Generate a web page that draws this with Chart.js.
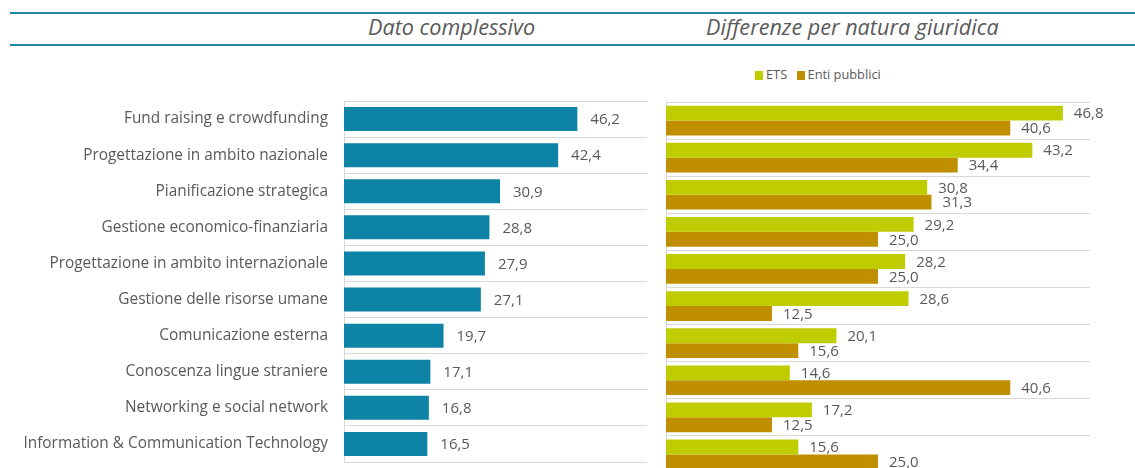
<!DOCTYPE html>
<html>
<head>
<meta charset="utf-8">
<script src="https://cdn.jsdelivr.net/npm/chart.js@4.4.0/dist/chart.umd.min.js"></script>
<style>
  body { margin: 0; width: 1135px; height: 468px; overflow: hidden; background: #fff; position: relative; font-family: "Open Sans", sans-serif; }
  .rule { position: absolute; left: 10px; right: 0; height: 2px; background: #1f86ab; }
  .title { position: absolute; top: 12px; font-style: italic; font-size: 21.6px; color: #595959; white-space: nowrap; }
  .legend { position: absolute; top: 65px; left: 755px; font-size: 12.8px; color: #595959; white-space: nowrap; }
  .legend span.box { display: inline-block; width: 8px; height: 9px; margin-right: 3px; vertical-align: -1px; }
  .legend span.item { margin-right: 6px; }
  canvas { position: absolute; }
</style>
</head>
<body>
<div class="rule" style="top:12px"></div>
<div class="rule" style="top:44px"></div>
<div class="title" style="left:368px">Dato complessivo</div>
<div class="title" style="left:706px">Differenze per natura giuridica</div>
<div class="legend">
  <span class="item"><span class="box" style="background:#bfcc00"></span>ETS</span>
  <span class="item"><span class="box" style="background:#c08f00"></span>Enti pubblici</span>
</div>
<canvas id="leftChart" width="660" height="363" style="left:0;top:100px"></canvas>
<canvas id="rightChart" width="485" height="373" style="left:650px;top:101px"></canvas>

<script>
// ----------------------------------------------------
// DATA
// ----------------------------------------------------
const categories = [
    "Fund raising e crowdfunding",
    "Progettazione in ambito nazionale",
    "Pianificazione strategica",
    "Gestione economico-finanziaria",
    "Progettazione in ambito internazionale",
    "Gestione delle risorse umane",
    "Comunicazione esterna",
    "Conoscenza lingue straniere",
    "Networking e social network",
    "Information & Communication Technology"
];

const totalValues = [46.2, 42.4, 30.9, 28.8, 27.9, 27.1, 19.7, 17.1, 16.8, 16.5];
const etsValues = [46.8, 43.2, 30.8, 29.2, 28.2, 28.6, 20.1, 14.6, 17.2, 15.6];
const publicValues = [40.6, 34.4, 31.3, 25.0, 25.0, 12.5, 15.6, 40.6, 12.5, 25.0];

const GRID = "#d9d9d9";
const TEXT = "#595959";

// ----------------------------------------------------
// VALUE LABELS PLUGIN (comma decimal, right of bar)
// ----------------------------------------------------
const valueLabels = {
    id: "valueLabels",
    afterDatasetsDraw(chart, args, opts) {
        const { ctx } = chart;
        ctx.save();
        ctx.font = '15px "Open Sans"';
        ctx.fillStyle = TEXT;
        ctx.textAlign = "left";
        ctx.textBaseline = "middle";
        chart.data.datasets.forEach((ds, di) => {
            chart.getDatasetMeta(di).data.forEach((bar, i) => {
                const label = ds.data[i].toFixed(1).replace(".", ",");
                ctx.fillText(label, bar.x + opts.gap, bar.y + 1);
            });
        });
        ctx.restore();
    }
};

// fixed axis width, no extra label padding top/bottom
function fixAxis(width) {
    return scale => {
        scale.width = width;
        scale.paddingTop = 0;
        scale.paddingBottom = 0;
    };
}

// ----------------------------------------------------
// LEFT: DATO COMPLESSIVO
// ----------------------------------------------------
new Chart(document.getElementById("leftChart"), {
    type: "bar",
    data: {
        labels: categories,
        datasets: [{
            data: totalValues,
            backgroundColor: "#0d83a6",
            barPercentage: 0.665,
            categoryPercentage: 1
        }]
    },
    options: {
        indexAxis: "y",
        responsive: false,
        animation: false,
        layout: { padding: { top: 1, bottom: 1, right: 13, left: 0 } },
        scales: {
            x: { display: false, min: 0, max: 60 },
            y: {
                afterFit: fixAxis(344),
                grid: { color: GRID, offset: true, drawTicks: false },
                border: { display: true, color: GRID },
                ticks: { color: TEXT, padding: 16, autoSkip: false, font: { family: "Open Sans", size: 15.4 } }
            }
        },
        plugins: {
            legend: { display: false },
            tooltip: { enabled: false },
            valueLabels: { gap: 13 }
        }
    },
    plugins: [valueLabels]
});

// ----------------------------------------------------
// RIGHT: DIFFERENZE PER NATURA GIURIDICA
// ----------------------------------------------------
new Chart(document.getElementById("rightChart"), {
    type: "bar",
    data: {
        labels: categories,
        datasets: [
            { label: "ETS", data: etsValues, backgroundColor: "#bfcc00", barPercentage: 1, categoryPercentage: 0.8 },
            { label: "Enti pubblici", data: publicValues, backgroundColor: "#c08f00", barPercentage: 1, categoryPercentage: 0.8 }
        ]
    },
    options: {
        indexAxis: "y",
        responsive: false,
        animation: false,
        layout: { padding: { top: 1, bottom: 1, right: 45, left: 0 } },
        scales: {
            x: { display: false, min: 0, max: 50 },
            y: {
                afterFit: fixAxis(16),
                grid: { color: GRID, offset: true, drawTicks: false },
                border: { display: true, color: GRID },
                ticks: { display: false }
            }
        },
        plugins: {
            legend: { display: false },
            tooltip: { enabled: false },
            valueLabels: { gap: 11 }
        }
    },
    plugins: [valueLabels]
});
</script>
</body>
</html>
